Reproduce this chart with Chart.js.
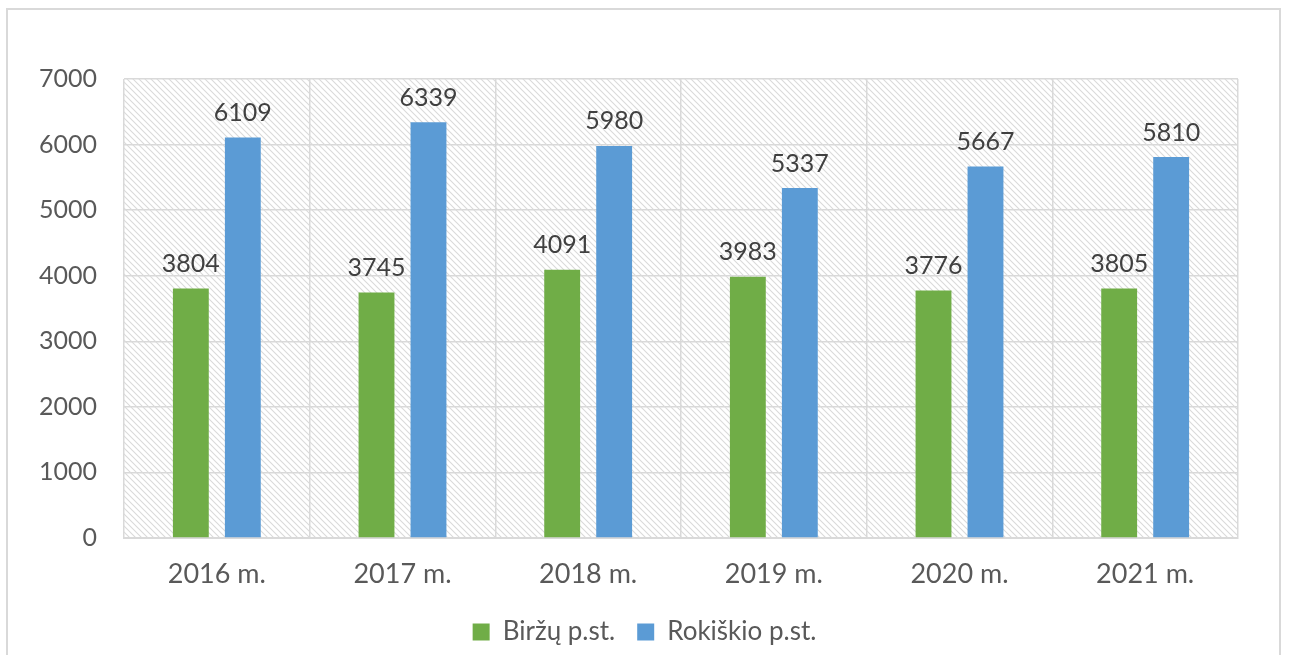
<!DOCTYPE html>
<html>
<head>
<meta charset="utf-8">
<script src="https://cdn.jsdelivr.net/npm/chart.js@4/dist/chart.umd.min.js"></script>
<style>
  html, body { margin: 0; padding: 0; background: #fff; }
  #wrap { position: relative; width: 1289px; height: 655px; overflow: hidden; }
  #frame { position: absolute; left: 6px; top: 8px; width: 1275px; height: 700px; border: 2px solid #d9d9d9; box-sizing: border-box; }
  canvas { position: absolute; left: 0; top: 0; }
</style>
</head>
<body>
<div id="wrap">
  <div id="frame"></div>
  <canvas id="c" width="1289" height="655"></canvas>
</div>
<script>
const categories = ["2016 m.", "2017 m.", "2018 m.", "2019 m.", "2020 m.", "2021 m."];
const birzai = [3804, 3745, 4091, 3983, 3776, 3805];
const rokiskis = [6109, 6339, 5980, 5337, 5667, 5810];
const seriesNames = ["Biržų p.st.", "Rokiškio p.st."];
const yTicks = [0, 1000, 2000, 3000, 4000, 5000, 6000, 7000];

const FONT = "Lato, 'Open Sans', sans-serif";

function makeHatch() {
  const s = 6;
  const p = document.createElement('canvas');
  p.width = s; p.height = s;
  const g = p.getContext('2d');
  g.fillStyle = '#ffffff';
  g.fillRect(0, 0, s, s);
  g.strokeStyle = '#dadada';
  g.lineWidth = 1.1;
  g.beginPath();
  g.moveTo(-1, -1); g.lineTo(s + 1, s + 1);
  g.moveTo(-1, s - 1); g.lineTo(1, s + 1);
  g.moveTo(s - 1, -1); g.lineTo(s + 1, 1);
  g.stroke();
  return g.createPattern(p, 'repeat');
}

const hatchPlugin = {
  id: 'hatch',
  beforeDraw(chart) {
    const { ctx, chartArea: a } = chart;
    ctx.save();
    ctx.fillStyle = makeHatch();
    ctx.fillRect(a.left, a.top, a.right - a.left, a.bottom - a.top);
    ctx.restore();
  }
};

const labelPlugin = {
  id: 'valueLabels',
  afterDatasetsDraw(chart) {
    const { ctx } = chart;
    ctx.save();
    ctx.font = "25px " + FONT;
    ctx.fillStyle = '#404040';
    ctx.textAlign = 'center';
    ctx.textBaseline = 'bottom';
    chart.data.datasets.forEach((ds, i) => {
      const meta = chart.getDatasetMeta(i);
      meta.data.forEach((bar, j) => {
        ctx.fillText(String(ds.data[j]), bar.x, bar.y - 12);
      });
    });
    ctx.restore();
  }
};

new Chart(document.getElementById('c'), {
  type: 'bar',
  data: {
    labels: categories,
    datasets: [
      { label: seriesNames[0], data: birzai, backgroundColor: '#70AD47', categoryPercentage: 0.56, barPercentage: 0.69 },
      { label: seriesNames[1], data: rokiskis, backgroundColor: '#5B9BD5', categoryPercentage: 0.56, barPercentage: 0.69 }
    ]
  },
  options: {
    responsive: false,
    animation: false,
    devicePixelRatio: 1,
    layout: { padding: { top: 79, right: 0, bottom: 0, left: 0 } },
    plugins: {
      legend: {
        position: 'bottom',
        labels: {
          boxWidth: 17, boxHeight: 17, padding: 22,
          color: '#595959',
          font: { size: 26, family: FONT }
        }
      },
      tooltip: { enabled: false }
    },
    scales: {
      x: {
        grid: { color: '#d9d9d9', lineWidth: 1.5, drawTicks: false, offset: true },
        border: { color: '#d9d9d9', width: 2 },
        ticks: { color: '#595959', font: { size: 27, family: FONT }, padding: 20 },
        afterFit(s) { s.height = 59; }
      },
      y: {
        min: 0, max: 7000,
        afterBuildTicks(s) { s.ticks = yTicks.map(v => ({ value: v })); },
        grid: { color: '#d9d9d9', lineWidth: 1.5, drawTicks: false },
        border: { display: false },
        ticks: { color: '#595959', font: { size: 25, family: FONT }, padding: 27, callback: v => String(v) },
        afterFit(s) { s.width = 124; }
      },
      ySpacer: {
        position: 'right',
        display: true,
        grid: { display: false },
        border: { display: false },
        ticks: { display: false },
        afterFit(s) { s.width = 51; }
      }
    }
  },
  plugins: [hatchPlugin, labelPlugin]
});
</script>
</body>
</html>
